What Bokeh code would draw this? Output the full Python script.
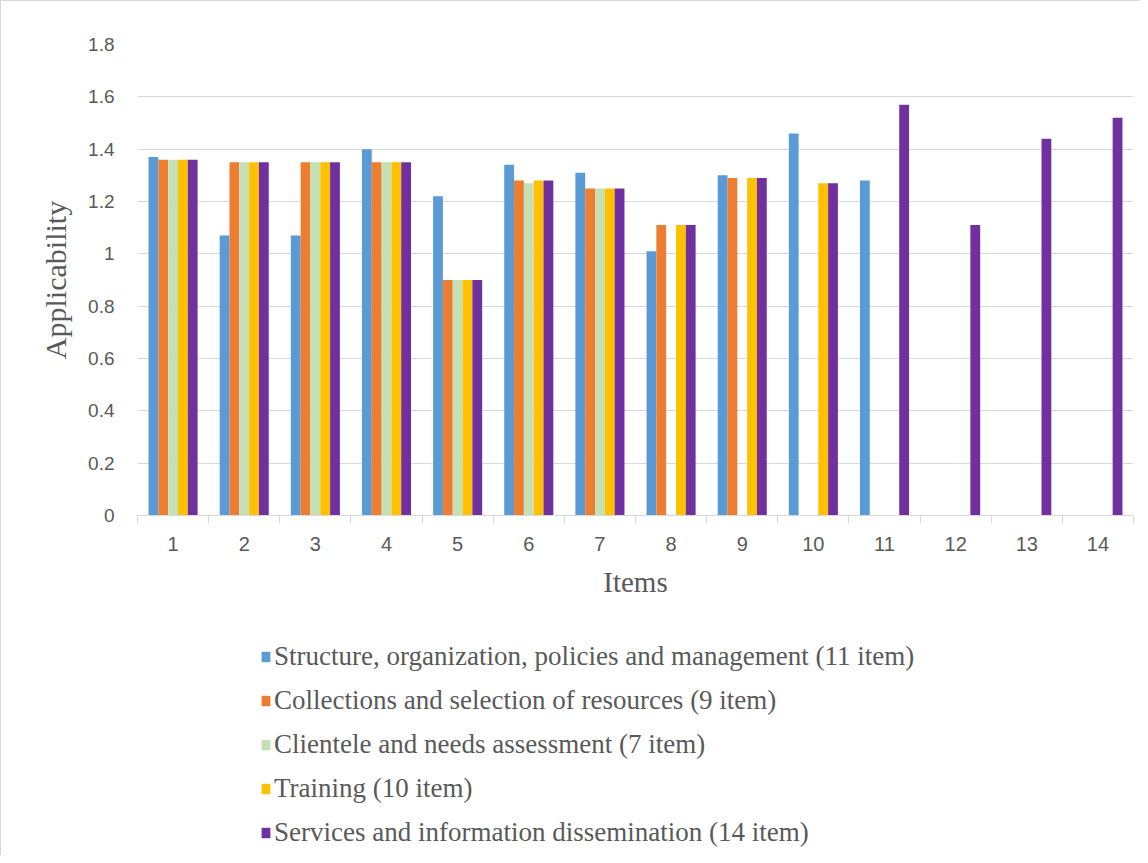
from bokeh.plotting import figure
from bokeh.models import FixedTicker, Legend, LegendItem, ColumnDataSource, Range1d
from bokeh.layouts import column
from bokeh.embed import file_html
from bokeh.resources import INLINE

items = list(range(1, 15))
series_names = [
    "Structure, organization, policies and management (11 item)",
    "Collections and selection of resources (9 item)",
    "Clientele and needs assessment (7 item)",
    "Training (10 item)",
    "Services and information dissemination (14 item)",
]
structure = [1.37, 1.07, 1.07, 1.40, 1.22, 1.34, 1.31, 1.01, 1.30, 1.46, 1.28, None, None, None]
collections = [1.36, 1.35, 1.35, 1.35, 0.90, 1.28, 1.25, 1.11, 1.29, None, None, None, None, None]
clientele = [1.36, 1.35, 1.35, 1.35, 0.90, 1.27, 1.25, None, None, None, None, None, None, None]
training = [1.36, 1.35, 1.35, 1.35, 0.90, 1.28, 1.25, 1.11, 1.29, 1.27, None, None, None, None]
services = [1.36, 1.35, 1.35, 1.35, 0.90, 1.28, 1.25, 1.11, 1.29, 1.27, 1.57, 1.11, 1.44, 1.52]
colors = ["#5B9BD5", "#ED7D31", "#C5E0B4", "#FFC000", "#7030A0"]
y_ticks = [0, 0.2, 0.4, 0.6, 0.8, 1.0, 1.2, 1.4, 1.6, 1.8]
y_tick_labels = ["0", "0.2", "0.4", "0.6", "0.8", "1", "1.2", "1.4", "1.6", "1.8"]

all_series = [structure, collections, clientele, training, services]

W = 1140
H_MAIN = 633
H_LEG = 222

p = figure(width=W, height=H_MAIN, output_backend="svg", toolbar_location=None,
           x_range=Range1d(0.5, 14.5), y_range=Range1d(0, 1.8),
           min_border_left=136, min_border_top=43, min_border_bottom=119, min_border_right=8)
p.styles = {"border-left": "1px solid #d9d9d9", "border-top": "1px solid #d9d9d9"}
p.outline_line_color = None
p.background_fill_color = "white"

bw = 0.138
sources = []
for i, (vals, col) in enumerate(zip(all_series, colors)):
    xs = [it + (i - 2) * bw for it, v in zip(items, vals) if v is not None]
    ys = [v for v in vals if v is not None]
    sources.append(dict(x=xs, top=ys))
    p.vbar(x="x", top="top", width=bw, bottom=0, source=ColumnDataSource(dict(x=xs, top=ys)),
           fill_color=col, line_color=None)

# grid
p.xgrid.grid_line_color = None
p.ygrid.grid_line_color = "#d9d9d9"
p.ygrid.grid_line_width = 1
p.ygrid.ticker = FixedTicker(ticks=y_ticks)

# y axis
p.yaxis.ticker = FixedTicker(ticks=y_ticks)
p.yaxis.major_label_overrides = {t: l for t, l in zip(y_ticks, y_tick_labels)}
p.yaxis.axis_line_color = None
p.yaxis.major_tick_line_color = None
p.yaxis.major_tick_out = 0
p.yaxis.minor_tick_line_color = None
p.yaxis.major_label_text_font = "Liberation Sans"
p.yaxis.major_label_text_font_size = "19px"
p.yaxis.major_label_text_color = "#595959"
p.yaxis.major_label_standoff = 23
p.yaxis.axis_label = "Applicability"
p.yaxis.axis_label_text_font = "Liberation Serif"
p.yaxis.axis_label_text_font_style = "normal"
p.yaxis.axis_label_text_font_size = "30px"
p.yaxis.axis_label_text_color = "#595959"
p.yaxis.axis_label_standoff = 13

# x axis
p.xaxis.ticker = FixedTicker(ticks=items, minor_ticks=[k + 0.5 for k in range(0, 15)])
p.xaxis.axis_line_color = "#d9d9d9"
p.xaxis.major_tick_line_color = None
p.xaxis.major_tick_out = 0
p.xaxis.major_tick_in = 0
p.xaxis.minor_tick_line_color = "#d9d9d9"
p.xaxis.minor_tick_out = 8
p.xaxis.minor_tick_in = 0
p.xaxis.major_label_text_font = "Liberation Sans"
p.xaxis.major_label_text_font_size = "20px"
p.xaxis.major_label_text_color = "#595959"
p.xaxis.major_label_standoff = 13
p.xaxis.axis_label = "Items"
p.xaxis.axis_label_text_font = "Liberation Serif"
p.xaxis.axis_label_text_font_style = "normal"
p.xaxis.axis_label_text_font_size = "29px"
p.xaxis.axis_label_text_color = "#595959"
p.xaxis.axis_label_standoff = 12

# legend figure (frames are aligned with the main figure by the column layout)
lf = figure(width=W, height=H_LEG, output_backend="svg", toolbar_location=None,
            x_range=Range1d(100, 101), y_range=Range1d(100, 101),
            x_axis_location=None, y_axis_location=None,
            min_border_left=0, min_border_right=0, min_border_top=0, min_border_bottom=0)
lf.styles = {"border-left": "1px solid #d9d9d9"}
lf.outline_line_color = None
lf.xgrid.grid_line_color = None
lf.ygrid.grid_line_color = None

legend_items = []
for name, col, src in zip(series_names, colors, sources):
    r = lf.vbar(x="x", top="top", width=bw, bottom=0, source=ColumnDataSource(src),
                fill_color=col, line_color=None)
    legend_items.append(LegendItem(label=name, renderers=[r]))

legend = Legend(items=legend_items, location=(123, 1), orientation="vertical",
                glyph_width=11, glyph_height=13, label_height=44, spacing=0,
                label_standoff=3, padding=0, margin=0,
                border_line_color=None, background_fill_alpha=0,
                label_text_font="Liberation Serif", label_text_font_size="27px",
                label_text_color="#595959")
lf.add_layout(legend, "center")

layout = column(p, lf, spacing=0)
open("out.html", "w").write(file_html(layout, INLINE))
